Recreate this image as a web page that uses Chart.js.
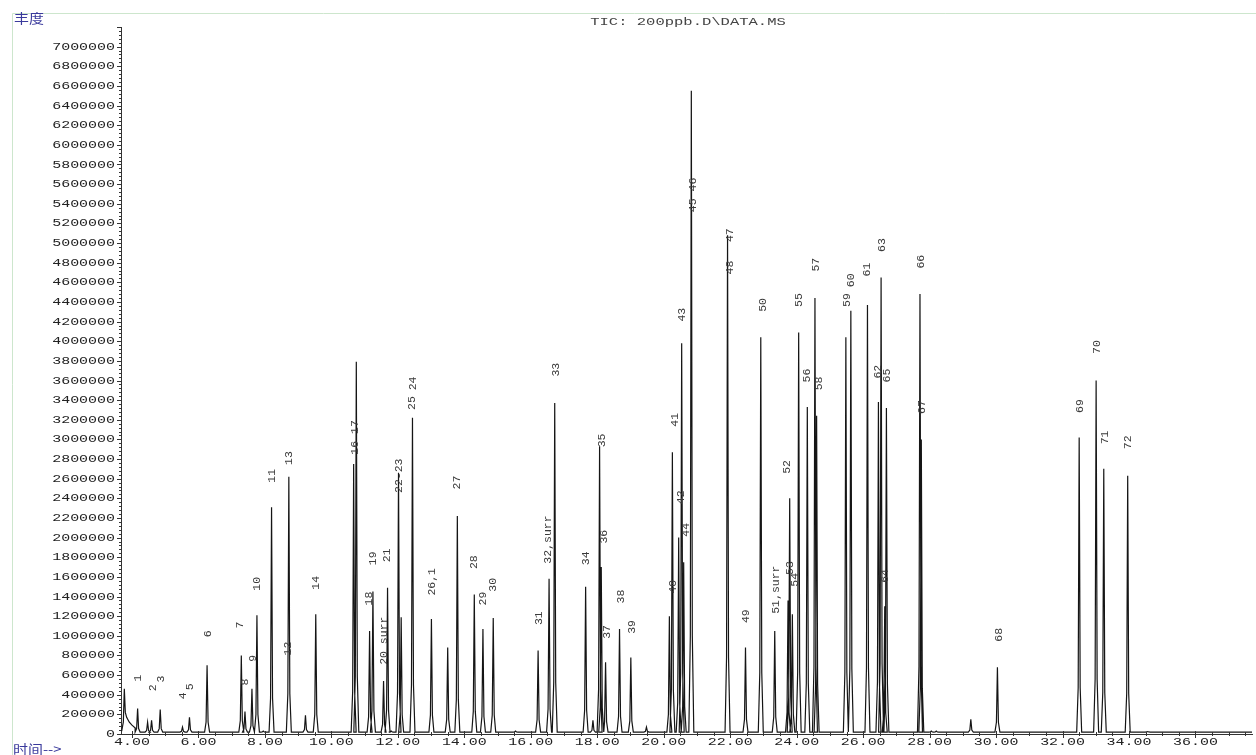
<!DOCTYPE html>
<html>
<head>
<meta charset="utf-8">
<title>TIC: 200ppb.D\DATA.MS</title>
<script src="https://cdn.jsdelivr.net/npm/chart.js@4.4.0/dist/chart.umd.min.js"></script>
<style>
  html, body { margin: 0; padding: 0; background: #fff; }
  #wrap { position: relative; width: 1256px; height: 755px; }
</style>
</head>
<body>
<div id="wrap"><canvas id="tic"></canvas></div>
<script>
// --- data ---
// retention time (min) and abundance at the top of each peak
const peakTimes = [4.17, 4.47, 4.59, 4.85, 5.52, 5.73, 6.26, 7.29, 7.40, 7.61, 7.76, 7.95, 8.20, 8.72, 9.22, 9.53,
  10.67, 10.75, 11.15, 11.25, 11.57, 11.69, 11.80, 12.02, 12.10, 12.44, 13.01, 13.50, 13.79, 14.30, 14.56, 14.87,
  15.54, 16.22, 16.55, 16.72, 17.65, 17.87, 18.07, 18.12, 18.25, 18.67, 19.01, 19.48, 20.17, 20.26, 20.45, 20.54,
  20.60, 20.83, 21.92, 22.46, 22.92, 23.34, 23.74, 23.79, 23.87, 24.06, 24.32, 24.55, 24.60, 25.48, 25.63, 26.13,
  26.46, 26.54, 26.65, 26.70, 27.71, 27.75, 28.05, 28.20, 29.24, 30.04, 32.50, 33.01, 33.24, 33.96, 34.56];
const peakHeights = [260000, 120000, 140000, 250000, 70000, 170000, 700000, 800000, 230000, 460000, 1210000, 30000,
  2310000, 2620000, 190000, 1220000, 2750000, 3790000, 1050000, 1450000, 540000, 1490000, 30000, 2660000, 1190000,
  3220000, 1170000, 880000, 2220000, 1420000, 1070000, 1180000, 30000, 850000, 1580000, 3370000, 1500000, 140000,
  2930000, 1700000, 730000, 1070000, 780000, 70000, 1200000, 2870000, 2000000, 3980000, 1750000, 6550000, 5080000,
  880000, 4040000, 1050000, 1360000, 2400000, 1220000, 4090000, 3330000, 4440000, 3240000, 4040000, 4310000,
  4370000, 3380000, 4650000, 1300000, 3320000, 4480000, 3000000, 30000, 30000, 150000, 680000, 3020000, 3600000,
  2700000, 2630000, 25000];

// solvent front at the very start of the run
const solventTimes = [3.69, 3.74, 3.77, 3.80, 3.84, 3.92, 4.00, 4.10];
const solventHeights = [30000, 120000, 460000, 220000, 170000, 120000, 90000, 60000];
const baseline = 20000;

// compound numbers written above the peaks (time, abundance at the middle of the text)
const labelTexts = ['1', '2', '3', '4', '5', '6', '7', '8', '9', '10', '11', '12', '13', '14', '16 17', '18', '19',
  '20 surr', '21', '22-23', '25', '24', '26,1', '27', '28', '29', '30', '31', '32,surr', '33', '34', '35', '36', '37',
  '38', '39', '40', '41', '42', '43', '44', '45 46', '47', '48', '49', '50', '51,surr', '52', '53', '54', '55', '56',
  '57', '58', '59', '60', '61', '62', '63', '64', '65', '66', '67', '68', '69', '70', '71', '72'];
const labelTimes = [4.18, 4.63, 4.87, 5.54, 5.75, 6.29, 7.25, 7.40, 7.64, 7.77, 8.22, 8.70, 8.73, 9.54, 10.72, 11.14,
  11.26, 11.59, 11.68, 12.04, 12.43, 12.46, 13.04, 13.79, 14.30, 14.57, 14.87, 16.26, 16.53, 16.77, 17.67, 18.13,
  18.19, 18.28, 18.70, 19.03, 20.27, 20.33, 20.51, 20.54, 20.66, 20.87, 21.98, 21.98, 22.46, 22.98, 23.37, 23.70,
  23.79, 23.94, 24.06, 24.30, 24.57, 24.66, 25.51, 25.63, 26.11, 26.44, 26.56, 26.65, 26.71, 27.73, 27.77, 30.08,
  32.52, 33.04, 33.28, 33.97];
const labelLevels = [570000, 470000, 560000, 390000, 480000, 1020000, 1110000, 530000, 770000, 1530000, 2630000,
  870000, 2810000, 1540000, 3020000, 1380000, 1790000, 950000, 1820000, 2630000, 3370000, 3570000, 1550000, 2560000,
  1750000, 1380000, 1520000, 1180000, 1980000, 3710000, 1790000, 2990000, 2010000, 1040000, 1400000, 1090000,
  1500000, 3200000, 2410000, 4270000, 2080000, 5490000, 5080000, 4750000, 1200000, 4370000, 1470000, 2720000,
  1690000, 1570000, 4420000, 3650000, 4780000, 3570000, 4420000, 4620000, 4730000, 3690000, 4980000, 1610000,
  3650000, 4810000, 3330000, 1010000, 3340000, 3940000, 3020000, 2970000];

const xTickLabels = ['4.00', '6.00', '8.00', '10.00', '12.00', '14.00', '16.00', '18.00', '20.00', '22.00', '24.00',
  '26.00', '28.00', '30.00', '32.00', '34.00', '36.00'];
const yTickStep = 200000;
const yTickTop = 7000000;

// --- trace: every peak goes baseline -> top -> baseline ---
const traceData = [];
solventTimes.forEach((t, i) => traceData.push({ x: t, y: solventHeights[i] }));
peakTimes.forEach((t, i) => {
    const h = peakHeights[i];
    const foot = baseline + (h - baseline) * 0.15;
    traceData.push({ x: t - 0.075, y: baseline });
    traceData.push({ x: t - 0.03, y: foot });
    traceData.push({ x: t, y: h });
    traceData.push({ x: t + 0.03, y: foot });
    traceData.push({ x: t + 0.075, y: baseline });
});
traceData.push({ x: 37.7, y: baseline });

// texte etirée horizontalement (la police de l'original est large)
function wideText(ctx, text, x, y, align, stretch) {
    ctx.save();
    ctx.translate(x, y);
    ctx.scale(stretch, 1);
    ctx.textAlign = align;
    ctx.fillText(text, 0, 0);
    ctx.restore();
}

const chromPlugin = {
    id: 'chrom',
    beforeDraw(chart) {
        const ctx = chart.ctx;
        // marco verde claro
        ctx.save();
        ctx.strokeStyle = '#cde6cd';
        ctx.lineWidth = 1;
        ctx.beginPath();
        ctx.moveTo(12.5, 755);
        ctx.lineTo(12.5, 13.5);
        ctx.lineTo(1256, 13.5);
        ctx.stroke();
        ctx.restore();
    },
    afterDraw(chart) {
        const ctx = chart.ctx;
        const xs = chart.scales.x;
        const ys = chart.scales.y;
        const area = chart.chartArea;
        ctx.save();
        ctx.strokeStyle = '#333';
        ctx.lineWidth = 1;

        // ticks del eje Y
        ctx.beginPath();
        for (let v = 0; v <= 7200000; v += 40000) {
            const py = Math.round(ys.getPixelForValue(v)) + 0.5;
            const len = v % yTickStep === 0 ? 4 : 2;
            ctx.moveTo(area.left - len, py);
            ctx.lineTo(area.left, py);
        }
        // ticks del eje X
        for (let t = 4; t <= 37.6; t += 0.5) {
            const px = Math.round(xs.getPixelForValue(t)) + 0.5;
            const major = t % 2 === 0;
            ctx.moveTo(px, area.bottom - (major ? 3 : 2));
            ctx.lineTo(px, area.bottom + (major ? 4 : 2));
        }
        ctx.stroke();

        // etiquetas de los ejes
        ctx.fillStyle = '#222';
        ctx.font = '11.5px "Liberation Mono"';
        ctx.textBaseline = 'middle';
        for (let v = 0; v <= yTickTop; v += yTickStep) {
            wideText(ctx, String(v), area.left - 6, ys.getPixelForValue(v), 'right', 1.3);
        }
        xTickLabels.forEach(lbl => {
            wideText(ctx, lbl, xs.getPixelForValue(parseFloat(lbl)), area.bottom + 8, 'center', 1.3);
        });

        // numeros de compuesto, girados
        ctx.fillStyle = '#3a3a3a';
        ctx.font = '11.5px "Liberation Mono"';
        labelTexts.forEach((txt, i) => {
            ctx.save();
            ctx.translate(xs.getPixelForValue(labelTimes[i]), ys.getPixelForValue(labelLevels[i]));
            ctx.rotate(-Math.PI / 2);
            ctx.textAlign = 'center';
            ctx.fillText(txt, 0, 0);
            ctx.restore();
        });

        // titulo
        ctx.fillStyle = '#444';
        ctx.font = '11.5px "Liberation Mono"';
        wideText(ctx, 'TIC: 200ppb.D\\DATA.MS', 688, 22, 'center', 1.35);

        // rotulos en chino
        ctx.fillStyle = '#3a3a9c';
        ctx.font = '13px "Noto Sans CJK SC"';
        wideText(ctx, '丰度', 14, 18, 'left', 1.15);
        wideText(ctx, '时间-->', 13, 749, 'left', 1.15);
        ctx.restore();
    }
};

document.addEventListener('DOMContentLoaded', () => {
    const ctx = document.getElementById('tic');
    new Chart(ctx, {
        type: 'line',
        data: {
            datasets: [{
                data: traceData,
                borderColor: '#151515',
                borderWidth: 1.2,
                pointRadius: 0,
                fill: false,
                tension: 0
            }]
        },
        options: {
            responsive: true,
            maintainAspectRatio: false,
            animation: false,
            layout: { padding: { top: 27, right: 4, left: 0, bottom: 0 } },
            plugins: {
                legend: { display: false },
                tooltip: { enabled: false }
            },
            scales: {
                x: {
                    type: 'linear',
                    min: 3.67,
                    max: 37.7,
                    grid: { display: false, drawTicks: false },
                    border: { display: true, color: '#333' },
                    ticks: { display: false },
                    afterFit: (s) => { s.height = 21; }
                },
                y: {
                    min: 0,
                    max: 7200000,
                    grid: { display: false, drawTicks: false },
                    border: { display: true, color: '#333' },
                    ticks: { display: false },
                    afterFit: (s) => { s.width = 121; }
                }
            }
        },
        plugins: [chromPlugin]
    });
});
</script>
</body>
</html>
